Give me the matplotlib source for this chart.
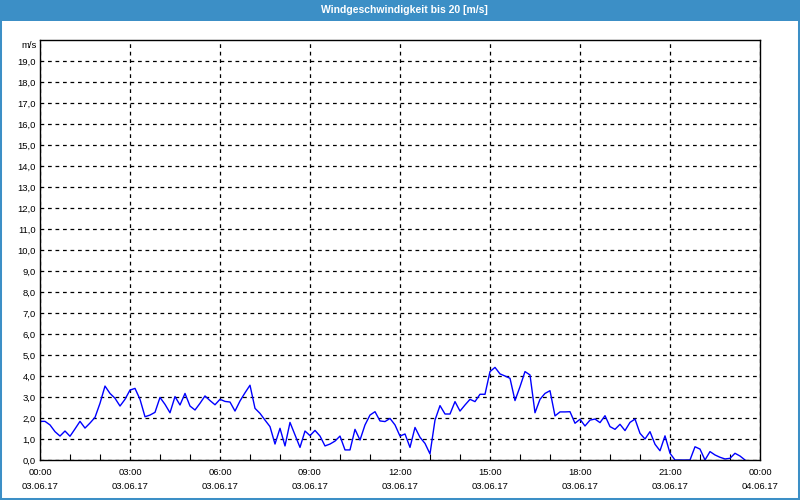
import matplotlib
matplotlib.use("Agg")
import matplotlib.pyplot as plt
import numpy as np
from matplotlib.patches import Rectangle

plt.rcParams['font.family'] = ['Liberation Sans', 'DejaVu Sans']

# wind speed in m/s, one value every 10 minutes from 00:00 to 23:30 (03.06.17)
step_minutes = 10
wind = [
    1.84, 1.84, 1.67, 1.35, 1.14, 1.38, 1.13, 1.48, 1.84, 1.52, 1.76, 2.03,   # 00-01
    2.70, 3.52, 3.17, 2.94, 2.57, 2.89, 3.33, 3.41, 2.89, 2.06, 2.14, 2.27,   # 02-03
    2.98, 2.65, 2.25, 3.02, 2.62, 3.17, 2.57, 2.38, 2.70, 3.05, 2.83, 2.63,   # 04-05
    2.89, 2.79, 2.76, 2.33, 2.81, 3.20, 3.56, 2.46, 2.22, 1.90, 1.59, 0.76,   # 06-07
    1.51, 0.67, 1.79, 1.19, 0.60, 1.38, 1.16, 1.41, 1.14, 0.67, 0.76, 0.90,   # 08-09
    1.14, 0.48, 0.48, 1.46, 0.95, 1.67, 2.14, 2.30, 1.86, 1.83, 1.98, 1.67,   # 10-11
    1.14, 1.24, 0.60, 1.55, 1.08, 0.79, 0.29, 1.90, 2.59, 2.19, 2.19, 2.78,   # 12-13
    2.33, 2.62, 2.89, 2.78, 3.13, 3.13, 4.21, 4.41, 4.10, 4.00, 3.89, 2.83,   # 14-15
    3.49, 4.21, 4.05, 2.25, 2.89, 3.17, 3.30, 2.10, 2.29, 2.29, 2.30, 1.75,   # 16-17
    1.94, 1.62, 1.90, 1.95, 1.78, 2.11, 1.59, 1.46, 1.70, 1.40, 1.79, 1.95,   # 18-19
    1.27, 1.00, 1.35, 0.75, 0.44, 1.15, 0.32, 0.00, 0.00, 0.00, 0.00, 0.63,   # 20-21
    0.52, 0.00, 0.40, 0.24, 0.13, 0.05, 0.08, 0.32, 0.19, 0.00,               # 22-23
]
hours = np.arange(len(wind)) * step_minutes / 60.0

x_ticks = [0, 3, 6, 9, 12, 15, 18, 21, 24]
x_labels = ['00:00\n03.06.17', '03:00\n03.06.17', '06:00\n03.06.17',
            '09:00\n03.06.17', '12:00\n03.06.17', '15:00\n03.06.17',
            '18:00\n03.06.17', '21:00\n03.06.17', '00:00\n04.06.17']
y_ticks = list(range(0, 20))
y_labels = [f'{v},0' for v in y_ticks]

blue_frame = '#3c8fc6'

fig = plt.figure(figsize=(8, 5), dpi=100)
fig.patch.set_facecolor('white')
ax = fig.add_axes([40 / 800, 40 / 500, 720 / 800, 420 / 500])

ax.plot(hours, wind, color='#0000ff', linewidth=1)

ax.set_xlim(0, 24)
ax.set_ylim(0, 20)
ax.set_xticks(x_ticks)
ax.set_xticklabels(x_labels, fontsize=6.8, linespacing=1.65)
ax.set_xticks(np.arange(0, 25, 1), minor=True)
ax.set_yticks(y_ticks)
ax.set_yticklabels(y_labels, fontsize=6.8)

ax.tick_params(axis='x', which='major', length=0, pad=6)
ax.tick_params(axis='x', which='minor', direction='in', length=4, width=0.8)
ax.tick_params(axis='y', length=0, pad=3)

ax.grid(True, which='major', color='black', linestyle=(0, (3, 3)), linewidth=0.9)
for s in ax.spines.values():
    s.set_color('black')
    s.set_linewidth(1)

fig.text(37 / 800, 1 - 45 / 500, 'm/s', ha='right', va='center', fontsize=6.8)

# title bar and window frame
fig.patches.append(Rectangle((0, 1 - 21 / 500), 1, 21 / 500, transform=fig.transFigure,
                             facecolor=blue_frame, edgecolor='none', zorder=0))
fig.patches.append(Rectangle((0, 0), 1, 1, transform=fig.transFigure,
                             facecolor='none', edgecolor=blue_frame, linewidth=2.9, zorder=0))
fig.text(0.505, 1 - 10 / 500, 'Windgeschwindigkeit bis 20 [m/s]', ha='center', va='center',
         color='white', fontsize=7.5, fontweight='bold')

fig.savefig('out.png', dpi=100)
